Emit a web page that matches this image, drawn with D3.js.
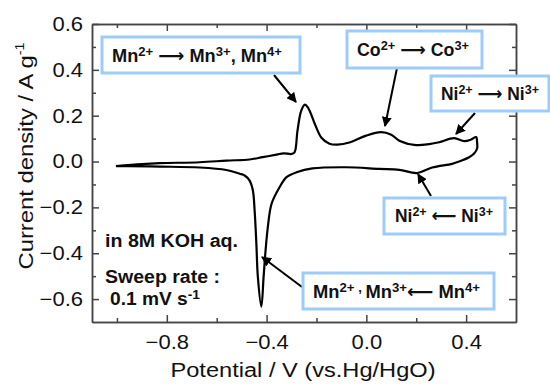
<!DOCTYPE html>
<html>
<head>
<meta charset="utf-8">
<script src="https://cdn.jsdelivr.net/npm/d3@7"></script>
<style>
  body { margin: 0; background: #fff; }
  text { font-family: "Liberation Sans", Arial, sans-serif; }
</style>
</head>
<body>
<div id="cv"></div>
<script>
// CV data (V vs Hg/HgO, A/g)
// anodic sweep, left -> right
let anodicV = [-1.004, -0.90, -0.828, -0.668, -0.561, -0.468, -0.416, -0.36, -0.332, -0.30, -0.288, -0.276, -0.261, -0.246,
  -0.234, -0.224, -0.204, -0.18, -0.148, -0.116, -0.068, -0.001, 0.059, 0.10, 0.132, 0.199, 0.252, 0.292, 0.352, 0.392, 0.42, 0.44];
let anodicI = [-0.020, -0.011, -0.007, -0.003, 0.004, 0.009, 0.019, 0.030, 0.036, 0.033, 0.040, 0.135, 0.222, 0.248,
  0.235, 0.213, 0.157, 0.104, 0.078, 0.074, 0.083, 0.113, 0.128, 0.117, 0.091, 0.072, 0.076, 0.084, 0.102, 0.089, 0.096, 0.107];
// cathodic sweep, right -> left
let cathodicV = [0.444, 0.444, 0.432, 0.412, 0.372, 0.344, 0.264, 0.204, 0.132, 0.052, -0.081, -0.216, -0.28, -0.32, -0.348,
  -0.38, -0.395, -0.404, -0.412, -0.421, -0.435, -0.441, -0.448, -0.455, -0.468, -0.488, -0.508, -0.561, -0.668, -0.828, -0.961, -1.004];
let cathodicI = [0.083, 0.057, 0.035, 0.019, 0.0, -0.010, -0.026, -0.050, -0.036, -0.032, -0.025, -0.030, -0.047, -0.068, -0.112,
  -0.184, -0.286, -0.387, -0.503, -0.633, -0.503, -0.358, -0.213, -0.126, -0.083, -0.061, -0.053, -0.037, -0.026, -0.022, -0.020, -0.020];

let xMajor = [-0.8, -0.4, 0.0, 0.4];
let xMinor = [-1.0, -0.6, -0.2, 0.2];
let yMajor = [-0.6, -0.4, -0.2, 0.0, 0.2, 0.4, 0.6];
let yMinor = [-0.5, -0.3, -0.1, 0.1, 0.3, 0.5];

// configuration of svg/plot area
let config = { 'svg': {}, 'margin': {}, 'plot': {} };
config.svg.width = 550;
config.svg.height = 385;
config.margin.top = 24;
config.margin.left = 92;
config.margin.right = 34;
config.margin.bottom = 63;
config.plot.width = config.svg.width - config.margin.left - config.margin.right;
config.plot.height = config.svg.height - config.margin.top - config.margin.bottom;

function translate(x, y) {
  return 'translate(' + x + ',' + y + ')';
}

// the source picture is a bit wider than its glyphs, so stretch text
function stretch(sel, k) {
  sel.each(function() {
    let w = this.getComputedTextLength();
    if (w > 0) d3.select(this).attr('textLength', w * k).attr('lengthAdjust', 'spacingAndGlyphs');
  });
}

let svg = d3.select('#cv').append('svg')
  .attr('width', config.svg.width)
  .attr('height', config.svg.height);
let plot = svg.append('g')
  .attr('transform', translate(config.margin.left, config.margin.top));

let x = d3.scaleLinear().domain([-1.1, 0.6]).range([0, config.plot.width]);
let y = d3.scaleLinear().domain([-0.7, 0.6]).range([config.plot.height, 0]);

let fmt = d3.format('.1f');
let axisColor = '#444';

function styleAxis(g) {
  g.selectAll('path, line').attr('stroke', axisColor).attr('stroke-width', 1.5);
  g.selectAll('text').attr('font-size', 20).attr('fill', '#111')
    .style('font-family', '"Liberation Sans", Arial, sans-serif')
    .call(stretch, 1.1);
}

// bottom / top
plot.append('g').attr('transform', translate(0, config.plot.height))
  .call(d3.axisBottom(x).tickValues(xMajor).tickFormat(fmt).tickSizeInner(-7).tickSizeOuter(0).tickPadding(13))
  .call(styleAxis);
plot.append('g').attr('transform', translate(0, config.plot.height))
  .call(d3.axisBottom(x).tickValues(xMinor).tickFormat('').tickSizeInner(-4).tickSizeOuter(0))
  .call(styleAxis);
plot.append('g')
  .call(d3.axisTop(x).tickValues(xMajor).tickFormat('').tickSizeInner(-7).tickSizeOuter(0))
  .call(styleAxis);
plot.append('g')
  .call(d3.axisTop(x).tickValues(xMinor).tickFormat('').tickSizeInner(-4).tickSizeOuter(0))
  .call(styleAxis);
// left / right
plot.append('g')
  .call(d3.axisLeft(y).tickValues(yMajor).tickFormat(fmt).tickSizeInner(-7).tickSizeOuter(0).tickPadding(9))
  .call(styleAxis);
plot.append('g')
  .call(d3.axisLeft(y).tickValues(yMinor).tickFormat('').tickSizeInner(-4).tickSizeOuter(0))
  .call(styleAxis);
plot.append('g').attr('transform', translate(config.plot.width, 0))
  .call(d3.axisRight(y).tickValues(yMajor).tickFormat('').tickSizeInner(-7).tickSizeOuter(0))
  .call(styleAxis);
plot.append('g').attr('transform', translate(config.plot.width, 0))
  .call(d3.axisRight(y).tickValues(yMinor).tickFormat('').tickSizeInner(-4).tickSizeOuter(0))
  .call(styleAxis);

// axis titles
svg.append('text')
  .attr('x', 303).attr('y', 377)
  .attr('text-anchor', 'middle')
  .attr('font-size', 20)
  .attr('fill', '#111')
  .attr('textLength', 265).attr('lengthAdjust', 'spacingAndGlyphs')
  .text('Potential / V (vs.Hg/HgO)');

let ylab = svg.append('text')
  .attr('transform', translate(33, 156) + ' rotate(-90)')
  .attr('text-anchor', 'middle')
  .attr('font-size', 20)
  .attr('fill', '#111')
  .attr('textLength', 227).attr('lengthAdjust', 'spacingAndGlyphs');
ylab.append('tspan').text('Current density / A g');
ylab.append('tspan').attr('font-size', 12).attr('dy', -9).text('-1');

// the CV loop
let loop = [];
anodicV.forEach(function(v, i) { loop.push([v, anodicI[i]]); });
cathodicV.forEach(function(v, i) { loop.push([v, cathodicI[i]]); });

let line = d3.line()
  .x(function(d) { return x(d[0]); })
  .y(function(d) { return y(d[1]); })
  .curve(d3.curveCatmullRom.alpha(0.5));

plot.append('path')
  .datum(loop)
  .attr('d', line)
  .attr('fill', 'none')
  .attr('stroke', '#000')
  .attr('stroke-width', 2.2)
  .attr('stroke-linejoin', 'round');

// rich text helper: parts are [text, kind] (0 normal, 1 superscript, 2 arrow glyph)
function richText(sel, px, py, parts, size, len) {
  let t = sel.append('text')
    .attr('x', px).attr('y', py)
    .attr('font-size', size)
    .attr('font-weight', 'bold')
    .attr('fill', '#111');
  let up = false;
  parts.forEach(function(p) {
    let s = t.append('tspan').text(p[0]);
    if (p[1] === 1) {
      s.attr('font-size', size * 0.72);
      if (!up) { s.attr('dy', -6); up = true; }
    } else {
      if (up) { s.attr('dy', 6); up = false; }
      if (p[1] === 2) s.style('font-family', '"DejaVu Sans", sans-serif');
    }
  });
  if (len) t.attr('textLength', len).attr('lengthAdjust', 'spacingAndGlyphs');
  return t;
}

// arrows
svg.append('defs').append('marker')
  .attr('id', 'head')
  .attr('viewBox', '0 0 10 10')
  .attr('refX', 9).attr('refY', 5)
  .attr('markerWidth', 5).attr('markerHeight', 5)
  .attr('orient', 'auto')
  .append('path').attr('d', 'M0,0 L10,5 L0,10 z').attr('fill', '#000');

let arrows = [
  [274, 75, 296, 102],
  [397, 68, 385, 126],
  [475, 113, 456, 134],
  [431, 196, 418, 174],
  [302, 287, 262, 257]
];
svg.selectAll('.arrow').data(arrows).enter().append('line')
  .attr('class', 'arrow')
  .attr('x1', function(d) { return d[0]; })
  .attr('y1', function(d) { return d[1]; })
  .attr('x2', function(d) { return d[2]; })
  .attr('y2', function(d) { return d[3]; })
  .attr('stroke', '#000')
  .attr('stroke-width', 2)
  .attr('marker-end', 'url(#head)');

// boxes
let R = '\u27f6', L = '\u27f5';
let boxes = [
  { x: 102, y: 37, w: 198, h: 36, tx: 112, ty: 62, len: 170,
    parts: [['Mn', 0], ['2+', 1], [' ', 0], [R, 2], [' Mn', 0], ['3+', 1], [', Mn', 0], ['4+', 1]] },
  { x: 347, y: 31, w: 135, h: 37, tx: 357, ty: 56, len: 112,
    parts: [['Co', 0], ['2+', 1], [' ', 0], [R, 2], [' Co', 0], ['3+', 1]] },
  { x: 431, y: 76, w: 118, h: 35, tx: 441, ty: 100, len: 98,
    parts: [['Ni', 0], ['2+', 1], [' ', 0], [R, 2], [' Ni', 0], ['3+', 1]] },
  { x: 384, y: 198, w: 121, h: 36, tx: 395, ty: 222, len: 98,
    parts: [['Ni', 0], ['2+', 1], [' ', 0], [L, 2], [' Ni', 0], ['3+', 1]] },
  { x: 303, y: 273, w: 191, h: 36, tx: 313, ty: 298, len: 167,
    parts: [['Mn', 0], ['2+', 1], [' , ', 1], ['Mn', 0], ['3+', 1], [L, 2], [' Mn', 0], ['4+', 1]] }
];
boxes.forEach(function(b) {
  svg.append('rect')
    .attr('x', b.x).attr('y', b.y).attr('width', b.w).attr('height', b.h)
    .attr('fill', '#fff').attr('stroke', '#9dcbfa').attr('stroke-width', 3);
  richText(svg, b.tx, b.ty, b.parts, 18, b.len);
});

// conditions
richText(svg, 105, 247, [['in 8M KOH aq.', 0]], 18, 133);
richText(svg, 105, 283, [['Sweep rate :', 0]], 18, 115);
richText(svg, 110, 305, [['0.1 mV s', 0], ['-1', 1]], 18, 90);
</script>
</body>
</html>
